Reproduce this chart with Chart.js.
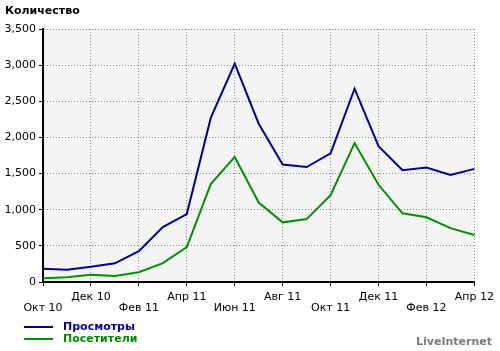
<!DOCTYPE html>
<html lang="ru">
<head>
<meta charset="UTF-8">
<title>Количество</title>
<script src="https://cdn.jsdelivr.net/npm/chart.js"></script>
<style>
  html, body { margin: 0; padding: 0; background: #fff; }
  #wrap { position: relative; width: 500px; height: 351px; font-family: "DejaVu Sans", Verdana, sans-serif; }
  #chartCanvas { position: absolute; left: 0; top: 0; }
  .title { position: absolute; left: 5px; top: 4px; font-size: 11px; font-weight: bold; color: #000; }
  .legend { position: absolute; left: 24px; top: 321px; font-size: 11px; font-weight: bold; }
  .legend div { height: 12px; line-height: 12px; white-space: nowrap; }
  .legend span.sw { display: inline-block; width: 29px; height: 2px; vertical-align: middle; margin-right: 10px; }
  .brand { position: absolute; right: 8px; top: 335px; font-size: 11px; font-weight: bold; color: #7a7a7a; }
</style>
</head>
<body>
<div id="wrap">
  <canvas id="chartCanvas" width="500" height="351"></canvas>
  <div class="title">Количество</div>
  <div class="legend" id="legend"></div>
  <div class="brand">LiveInternet</div>
</div>
<script>
const months = ['Окт 10','Ноя 10','Дек 10','Янв 11','Фев 11','Мар 11','Апр 11','Май 11','Июн 11','Июл 11',
  'Авг 11','Сен 11','Окт 11','Ноя 11','Дек 11','Янв 12','Фев 12','Мар 12','Апр 12'];
const views = [183, 169, 212, 258, 427, 760, 940, 2270, 3020, 2190, 1625, 1590, 1780, 2675, 1880, 1545, 1585, 1480, 1565];
const visitors = [53, 65, 100, 84, 136, 262, 483, 1355, 1730, 1100, 825, 870, 1200, 1922, 1345, 950, 895, 745, 650];
const seriesNames = ['Просмотры', 'Посетители'];
const seriesColors = ['#000099', '#009100'];
const legendTextColors = ['#0000a0', '#008a00'];

// legend as html
const legend = document.getElementById('legend');
seriesNames.forEach((name, i) => {
  const row = document.createElement('div');
  row.innerHTML = '<span class="sw" style="background:' + seriesColors[i] + '"></span>';
  const t = document.createElement('span');
  t.textContent = name;
  t.style.color = legendTextColors[i];
  row.appendChild(t);
  legend.appendChild(row);
});

// light gray plot background
const plotBg = {
  id: 'plotBg',
  beforeDraw(chart) {
    const a = chart.chartArea, ctx = chart.ctx;
    ctx.save();
    ctx.fillStyle = '#f4f4f4';
    ctx.fillRect(a.left, a.top, a.right - a.left, a.bottom - a.top);
    ctx.restore();
  }
};

const tickFont = { family: '"DejaVu Sans", Verdana, sans-serif', size: 11, lineHeight: 1.0 };

new Chart(document.getElementById('chartCanvas'), {
  type: 'line',
  data: {
    labels: months,
    datasets: [
      { label: seriesNames[0], data: views, borderColor: seriesColors[0], borderWidth: 2, pointRadius: 0, tension: 0, fill: false },
      { label: seriesNames[1], data: visitors, borderColor: seriesColors[1], borderWidth: 2, pointRadius: 0, tension: 0, fill: false }
    ]
  },
  options: {
    responsive: false,
    animation: false,
    layout: { padding: { top: 29, right: 24, left: 0, bottom: 0 } },
    plugins: { legend: { display: false }, tooltip: { enabled: false } },
    scales: {
      x: {
        afterFit(scale) { scale.height = 69; },
        border: { color: '#000', width: 2, dash: [1, 2] },
        grid: {
          color: ctx => ctx.index % 2 === 0 ? '#8a8a8a' : 'rgba(0,0,0,0)',
          tickColor: ctx => ctx.index % 2 === 0 ? '#000' : 'rgba(0,0,0,0)',
          tickBorderDash: [],
          tickLength: 4,
          lineWidth: 1
        },
        ticks: {
          autoSkip: false,
          maxRotation: 0,
          padding: 6,
          color: '#000',
          font: tickFont,
          callback(val, i) {
            if (i % 4 === 0) return ['', months[i]];
            if (i % 4 === 2) return [months[i], ''];
            return '';
          }
        }
      },
      y: {
        min: 0,
        max: 3500,
        afterFit(scale) { scale.width = 43; },
        border: { color: '#000', width: 2, dash: [1, 2] },
        grid: { color: '#8a8a8a', tickColor: '#000', tickBorderDash: [], tickLength: 4, lineWidth: 1 },
        ticks: {
          stepSize: 500,
          padding: 3,
          color: '#000',
          font: tickFont,
          callback: v => v.toLocaleString('en-US')
        }
      }
    }
  },
  plugins: [plotBg]
});
</script>
</body>
</html>
